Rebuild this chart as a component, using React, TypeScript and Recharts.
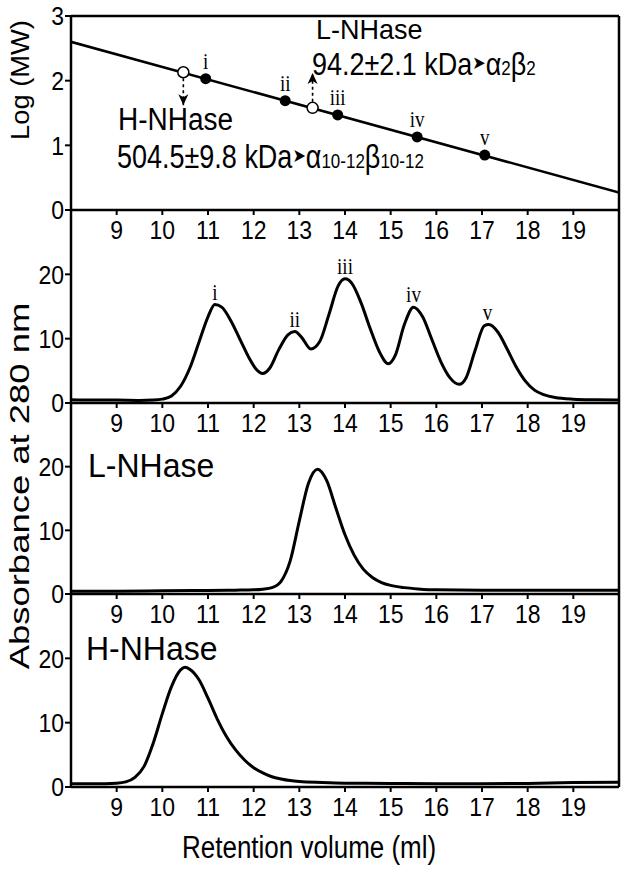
import React from 'react';
import { ComposedChart, Line, Scatter, XAxis, YAxis, ReferenceLine } from 'recharts';

const SANS = '"Liberation Sans", Arial, sans-serif';
const SERIF = '"Liberation Serif", "Times New Roman", serif';

// shared axis ticks
const volumeTicks = [9, 10, 11, 12, 13, 14, 15, 16, 17, 18, 19];
const logTicks = [0, 1, 2, 3];
const absTicks = [0, 10, 20];

// calibration line (top panel)
const fitVolume = [8, 20];
const fitLogMw = [2.6, 0.27];

// protein standards i..v
const standardNames = ['i', 'ii', 'iii', 'iv', 'v'];
const standardVolume = [10.95, 12.69, 13.84, 15.58, 17.06];
const standardLogMw = [2.03, 1.69, 1.47, 1.13, 0.85];

// samples (open circles) and where their arrows end
const sampleVolume = [10.46, 13.29];
const sampleLogMw = [2.13, 1.58];
const arrowTipLogMw = [1.62, 2.12];

// standards mix chromatogram
const mixVolume = [8.0, 8.5, 9.0, 9.5, 9.8, 10.0, 10.2, 10.4, 10.6, 10.8, 11.0, 11.15, 11.3, 11.5, 11.7, 11.9, 12.05, 12.2, 12.35, 12.55, 12.75, 12.9, 13.05, 13.25, 13.45, 13.65, 13.85, 14.0, 14.15, 14.35, 14.55, 14.75, 14.95, 15.1, 15.3, 15.5, 15.7, 15.9, 16.1, 16.3, 16.5, 16.65, 16.85, 17.05, 17.15, 17.35, 17.55, 17.75, 17.95, 18.15, 18.35, 18.6, 19.0, 19.5, 20.0];
const mixAbs = [0.5, 0.45, 0.45, 0.4, 0.45, 0.6, 1.1, 2.6, 5.4, 9.4, 13.4, 15.3, 14.9, 12.8, 9.9, 7.0, 5.3, 4.6, 5.4, 8.3, 10.6, 11.1, 10.2, 8.4, 9.6, 13.8, 18.2, 19.3, 18.6, 15.6, 11.6, 8.0, 6.1, 7.4, 12.2, 14.9, 13.4, 9.9, 6.4, 3.9, 2.9, 3.9, 8.2, 12.0, 12.2, 11.0, 8.4, 5.6, 3.4, 2.0, 1.3, 0.85, 0.6, 0.5, 0.45];
const peakNames = ['i', 'ii', 'iii', 'iv', 'v'];
const peakVolume = [11.15, 12.9, 14.0, 15.5, 17.12];
const peakAbs = [15.3, 11.1, 19.3, 14.9, 12.2];

// L-NHase chromatogram
const lVolume = [8.0, 9.0, 10.0, 11.0, 11.6, 12.0, 12.2, 12.4, 12.6, 12.8, 13.0, 13.2, 13.4, 13.6, 13.8, 14.0, 14.2, 14.4, 14.6, 14.8, 15.0, 15.3, 15.6, 16.0, 17.0, 18.0, 19.0, 20.0];
const lAbs = [0.45, 0.45, 0.5, 0.55, 0.6, 0.65, 0.75, 1.0, 2.0, 5.2, 11.5, 17.4, 19.6, 17.8, 13.5, 9.3, 6.1, 3.9, 2.6, 1.8, 1.35, 1.0, 0.8, 0.65, 0.6, 0.6, 0.6, 0.6];

// H-NHase chromatogram
const hVolume = [8.0, 8.5, 9.0, 9.2, 9.4, 9.6, 9.8, 10.0, 10.2, 10.4, 10.5, 10.6, 10.8, 11.0, 11.2, 11.4, 11.6, 11.8, 12.0, 12.2, 12.4, 12.6, 12.8, 13.0, 13.5, 14.0, 15.0, 16.0, 17.0, 18.0, 19.0, 20.0];
const hAbs = [0.5, 0.5, 0.6, 0.8, 1.5, 3.2, 6.8, 11.4, 15.6, 18.2, 18.6, 18.3, 16.7, 13.8, 10.6, 7.9, 5.8, 4.2, 3.0, 2.2, 1.6, 1.25, 1.0, 0.85, 0.7, 0.6, 0.55, 0.5, 0.5, 0.55, 0.7, 0.75];

const zip = (xs: number[], ys: number[]) => xs.map((v, i) => ({ v, y: ys[i] }));

const fitData = zip(fitVolume, fitLogMw);
const standardData = standardVolume.map((v, i) => ({ v, y: standardLogMw[i], name: standardNames[i] }));
const sampleData = zip(sampleVolume, sampleLogMw);
const arrowData = sampleVolume.map((v, i) => ({ v, y: arrowTipLogMw[i], dir: arrowTipLogMw[i] > sampleLogMw[i] ? 'up' : 'down' }));
const mixData = zip(mixVolume, mixAbs);
const peakData = peakVolume.map((v, i) => ({ v, y: peakAbs[i], name: peakNames[i] }));
const lData = zip(lVolume, lAbs);
const hData = zip(hVolume, hAbs);

const XTick = (props: any) => {
  const { x, y, payload } = props;
  return (
    <g transform={`translate(${x},${y}) scale(1,1.15)`}>
      <text x={0} y={16} textAnchor="middle" fontSize={23} fontFamily={SANS} fill="#000">
        {payload.value}
      </text>
    </g>
  );
};

const YTick = (props: any) => {
  const { x, y, payload } = props;
  return (
    <g transform={`translate(${x},${y}) scale(1,1.15)`}>
      <text x={0} y={8} textAnchor="end" fontSize={23} fontFamily={SANS} fill="#000">
        {payload.value}
      </text>
    </g>
  );
};

const RomanLabel = ({ cx, cy, text, gap }: { cx: number; cy: number; text: string; gap: number }) => (
  <g transform={`translate(${cx},${cy - gap}) scale(1,1.25)`}>
    <text x={0} y={0} textAnchor="middle" fontSize={19} fontFamily={SERIF} fill="#000">
      {text}
    </text>
  </g>
);

const standardShape = (props: any) => (
  <g>
    <circle cx={props.cx} cy={props.cy} r={5.5} fill="#000" />
    <RomanLabel cx={props.cx} cy={props.cy} text={props.payload.name} gap={10} />
  </g>
);

const sampleShape = (props: any) => (
  <circle cx={props.cx} cy={props.cy} r={5.5} fill="#fff" stroke="#000" strokeWidth={1.5} />
);

const arrowShape = (props: any) => {
  const { cx, cy } = props;
  const up = props.payload.dir === 'up';
  const d = up
    ? `M${cx},${cy} L${cx - 5},${cy + 11} L${cx},${cy + 8} L${cx + 5},${cy + 11} Z`
    : `M${cx},${cy} L${cx - 5},${cy - 11} L${cx},${cy - 8} L${cx + 5},${cy - 11} Z`;
  return <path d={d} fill="#000" />;
};

const peakShape = (props: any) => <RomanLabel cx={props.cx} cy={props.cy} text={props.payload.name} gap={5} />;

const axisLine = { stroke: '#000', strokeWidth: 2.5 };
const tickLine = { stroke: '#000', strokeWidth: 2 };

const xAxisProps = {
  type: 'number' as const,
  dataKey: 'v',
  domain: [8, 20],
  ticks: volumeTicks,
  allowDataOverflow: true,
  height: 34,
  tick: XTick,
  tickSize: 5,
  tickMargin: 6,
  axisLine,
  tickLine,
  interval: 0 as const,
};

const yAxisBase = {
  type: 'number' as const,
  width: 71,
  tick: YTick,
  tickSize: 6,
  tickMargin: 1,
  axisLine,
  tickLine,
  interval: 0 as const,
  allowDataOverflow: true,
};

const abs = (top: number): React.CSSProperties => ({ position: 'absolute', left: 0, top });

function StretchText({ x, y, size, sy, children, anchor = 'start', rotate = false }: any) {
  const t = rotate ? `translate(${x},${y}) scale(1,${sy}) rotate(-90)` : `translate(${x},${y}) scale(1,${sy})`;
  return (
    <text transform={t} fontSize={size} fontFamily={SANS} fill="#000" textAnchor={anchor}>
      {children}
    </text>
  );
}

const ARROW_FONT = '"DejaVu Sans", sans-serif';

export default function App() {
  return (
    <div style={{ position: 'absolute', left: 0, top: 0, width: 625, height: 870, background: '#fff' }}>
      {/* top: calibration */}
      <div style={abs(0)}>
        <ComposedChart width={625} height={244} margin={{ top: 16, right: 6, left: 0, bottom: 0 }}>
          <XAxis {...xAxisProps} />
          <YAxis {...yAxisBase} domain={[0, 3]} ticks={logTicks} />
          <ReferenceLine y={3} stroke="#000" strokeWidth={2.5} />
          <ReferenceLine x={20} stroke="#000" strokeWidth={2.5} />
          <Line data={fitData} dataKey="y" type="linear" stroke="#000" strokeWidth={2.6} dot={false} isAnimationActive={false} />
          {sampleVolume.map((v, i) => (
            <ReferenceLine
              key={v}
              segment={[{ x: v, y: sampleLogMw[i] }, { x: v, y: arrowTipLogMw[i] }]}
              stroke="#000"
              strokeWidth={1.6}
              strokeDasharray="3 3"
            />
          ))}
          <Scatter data={arrowData} dataKey="y" shape={arrowShape} isAnimationActive={false} />
          <Scatter data={standardData} dataKey="y" shape={standardShape} isAnimationActive={false} />
          <Scatter data={sampleData} dataKey="y" shape={sampleShape} isAnimationActive={false} />
        </ComposedChart>
      </div>

      {/* standards mix */}
      <div style={abs(0)}>
        <ComposedChart width={625} height={437} margin={{ top: 210, right: 6, left: 0, bottom: 0 }}>
          <XAxis {...xAxisProps} />
          <YAxis {...yAxisBase} domain={[0, 30]} ticks={absTicks} />
          <ReferenceLine x={20} stroke="#000" strokeWidth={2.5} />
          <Line data={mixData} dataKey="y" type="monotone" stroke="#000" strokeWidth={3} dot={false} isAnimationActive={false} />
          <Scatter data={peakData} dataKey="y" shape={peakShape} isAnimationActive={false} />
        </ComposedChart>
      </div>

      {/* L-NHase */}
      <div style={abs(0)}>
        <ComposedChart width={625} height={628} margin={{ top: 403, right: 6, left: 0, bottom: 0 }}>
          <XAxis {...xAxisProps} />
          <YAxis {...yAxisBase} domain={[0, 30]} ticks={absTicks} />
          <ReferenceLine x={20} stroke="#000" strokeWidth={2.5} />
          <Line data={lData} dataKey="y" type="monotone" stroke="#000" strokeWidth={3} dot={false} isAnimationActive={false} />
        </ComposedChart>
      </div>

      {/* H-NHase */}
      <div style={abs(0)}>
        <ComposedChart width={625} height={821} margin={{ top: 594, right: 6, left: 0, bottom: 0 }}>
          <XAxis {...xAxisProps} />
          <YAxis {...yAxisBase} domain={[0, 30]} ticks={absTicks} />
          <ReferenceLine x={20} stroke="#000" strokeWidth={2.5} />
          <Line data={hData} dataKey="y" type="monotone" stroke="#000" strokeWidth={3} dot={false} isAnimationActive={false} />
        </ComposedChart>
      </div>

      {/* titles and annotations */}
      <svg width={625} height={870} style={{ position: 'absolute', left: 0, top: 0, pointerEvents: 'none' }}>
        <StretchText x={29} y={80} size={26} sy={1.05} anchor="middle" rotate>Log (MW)</StretchText>
        <StretchText x={29} y={486} size={27} sy={1.35} anchor="middle" rotate>Absorbance at 280 nm</StretchText>
        <StretchText x={182} y={858} size={26} sy={1.2}>Retention volume (ml)</StretchText>

        <StretchText x={316} y={39} size={27} sy={1.05}>L-NHase</StretchText>
        <StretchText x={312} y={75} size={27} sy={1.15}>
          94.2±2.1 kDa
          <tspan fontSize={16} fontFamily={ARROW_FONT} dy={-5}>➤</tspan>
          <tspan dy={5}>α</tspan>
          <tspan fontSize={17}>2</tspan>
          <tspan>β</tspan>
          <tspan fontSize={17}>2</tspan>
        </StretchText>
        <StretchText x={118} y={130} size={28} sy={1.1}>H-NHase</StretchText>
        <StretchText x={117} y={168} size={27} sy={1.2}>
          504.5±9.8 kDa
          <tspan fontSize={16} fontFamily={ARROW_FONT} dy={-5}>➤</tspan>
          <tspan dy={5}>α</tspan>
          <tspan fontSize={17}>10-12</tspan>
          <tspan>β</tspan>
          <tspan fontSize={17}>10-12</tspan>
        </StretchText>

        <StretchText x={88} y={477} size={32} sy={1.05}>L-NHase</StretchText>
        <StretchText x={86} y={660} size={32} sy={1.05}>H-NHase</StretchText>
      </svg>
    </div>
  );
}
